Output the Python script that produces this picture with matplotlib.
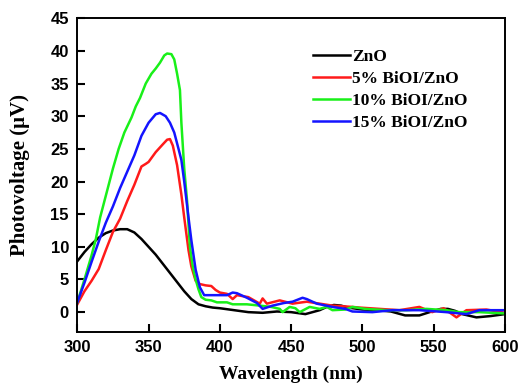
import matplotlib
matplotlib.use("Agg")
import matplotlib.pyplot as plt

# ---- data ----
zno_x = [300,305,310,315,320,325,330,335,340,345,350,355,360,365,370,375,380,385,390,395,400,410,420,430,440,450,460,470,475,480,485,490,500,510,520,530,540,550,555,560,565,570,580,590,600]
zno_y = [7.8,9.2,10.4,11.4,12.1,12.5,12.7,12.7,12.2,11.2,10.0,8.8,7.4,6.0,4.6,3.2,2.0,1.2,0.9,0.7,0.6,0.3,0.0,-0.1,0.1,0.0,-0.3,0.3,0.8,1.1,1.0,0.7,0.4,0.3,0.1,-0.5,-0.5,0.2,0.5,0.5,0.2,-0.3,-0.8,-0.6,-0.3]

b5_x = [300,305,310,315,320,325,330,335,340,345,348,350,355,360,363,365,367,370,373,375,378,380,383,386,390,394,397,400,405,409,412,420,428,430,433,442,451,461,470,479,493,498,512,526,540,549,557,566,573,587,600]
b5_y = [1.2,3.2,4.8,6.6,9.5,12.3,14.3,17.0,19.5,22.3,22.7,23.0,24.5,25.7,26.4,26.5,25.5,22.5,18.0,14.5,9.5,7.0,4.8,4.3,4.1,4.0,3.4,3.0,2.8,2.0,2.6,2.3,1.3,2.1,1.3,1.8,1.3,1.6,1.3,1.0,0.8,0.7,0.5,0.3,0.8,0.0,0.6,-0.8,0.3,0.4,-0.1]

b10_x = [300,305,310,313,316,319,322,325,329,333,338,341,344,348,352,355,358,361,363,366,368,370,372,373,375,377,379,381,383,385,387,390,394,398,405,409,419,428,436,442,444,449,453,456,463,470,475,479,488,493,502,517,531,545,559,568,582,600]
b10_y = [1.5,5.0,8.7,11.2,14.5,17.0,19.5,22.0,25.0,27.5,29.8,31.5,32.8,35.0,36.5,37.3,38.2,39.3,39.6,39.5,38.7,36.5,34.0,29.0,22.0,17.0,10.0,7.0,5.0,3.5,2.3,1.9,1.8,1.5,1.5,1.2,1.2,1.0,0.8,0.5,0.0,0.8,0.6,0.0,0.8,0.5,0.8,0.3,0.4,0.8,0.5,0.3,0.3,0.5,0.3,0.0,0.0,-0.2]

b15_x = [300,305,310,315,320,325,330,335,340,345,350,355,358,362,365,368,371,373,375,378,380,383,386,389,395,400,405,409,412,415,419,426,430,437,445,451,458,461,468,479,488,493,507,521,540,559,573,582,600]
b15_y = [1.5,4.5,7.7,10.8,13.7,16.2,19.0,21.5,24.0,27.0,29.0,30.3,30.5,30.0,29.0,27.5,25.0,23.3,20.0,14.5,11.0,6.5,3.8,2.6,2.6,2.6,2.6,3.0,2.9,2.6,2.2,1.4,0.5,1.0,1.4,1.6,2.2,2.0,1.3,0.8,0.5,0.1,0.0,0.3,0.3,0.0,-0.3,0.3,0.3]

labels = ["ZnO", "5% BiOI/ZnO", "10% BiOI/ZnO", "15% BiOI/ZnO"]
colors = ["#000000", "#ff1a1a", "#19f019", "#1414ff"]
xticks = [300, 350, 400, 450, 500, 550, 600]
yticks = [0, 5, 10, 15, 20, 25, 30, 35, 40, 45]

fig = plt.figure(figsize=(5.2, 3.88), dpi=100)
ax = fig.add_axes([0.1487, 0.145, 0.8223, 0.808])

series = [(zno_x, zno_y), (b5_x, b5_y), (b10_x, b10_y), (b15_x, b15_y)]
for (xs, ys), lab, c in zip(series, labels, colors):
    ax.plot(xs, ys, color=c, lw=1.8, label=lab)

ax.set_xlim(300, 600)
ax.set_ylim(-3, 45)
ax.set_xticks(xticks)
ax.set_yticks(yticks)
tickfont = dict(family="Liberation Sans", weight="bold", size=12)
ax.set_xticklabels([str(t) for t in xticks], fontdict=tickfont)
ax.set_yticklabels([str(t) for t in yticks], fontdict=tickfont)
ax.tick_params(direction="in", length=6, width=1.5, pad=6, top=False, right=False)
for s in ax.spines.values():
    s.set_linewidth(1.4)

ax.set_xlabel("Wavelength (nm)", family="Liberation Serif", weight="bold", size=14, labelpad=8)
ax.set_ylabel("Photovoltage (\u03bcV)", family="Liberation Serif", weight="bold", size=15, labelpad=15)

leg = ax.legend(loc="upper left", bbox_to_anchor=(0.532, 0.93), frameon=False,
                prop=dict(family="Liberation Serif", weight="bold", size=12.5),
                handlelength=2.1, handletextpad=0.12, labelspacing=0.34, borderpad=0)

fig.savefig("out.png", dpi=100)
